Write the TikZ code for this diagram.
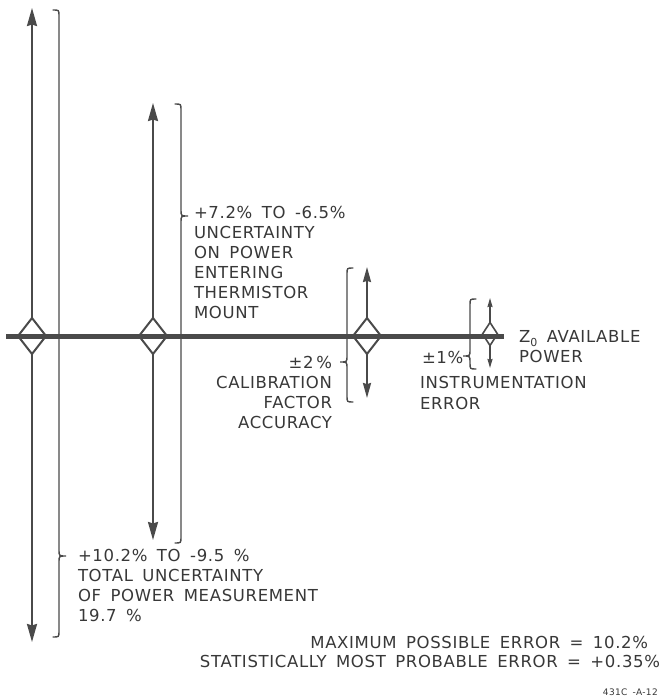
\documentclass[tikz,border=0pt]{standalone}
\usepackage{fontspec}
\setmainfont{DejaVu Sans}[LetterSpace=4, WordSpace=1.6]
\usetikzlibrary{arrows.meta,shapes.geometric}

\definecolor{ink}{HTML}{4A4A4A}
\definecolor{txt}{HTML}{383838}

% vertical curly brace: x, top, tip, bottom, side (+1 tip to the right, -1 tip to the left)
\newcommand\curlybrace[5]{%
  \draw[bracestyle] ({#1-6*(#5)},#2) .. controls (#1,#2) .. (#1,{#2+6})
    -- (#1,{#3-6}) .. controls (#1,#3) .. ({#1+7*(#5)},#3)
    .. controls (#1,#3) .. (#1,{#3+6})
    -- (#1,{#4-6}) .. controls (#1,#4) .. ({#1-6*(#5)},#4);}

\tikzset{
  bracestyle/.style={draw=ink, line width=1.4pt, line cap=round},
  shaft/.style={draw=ink, line width=2pt},
  bighead/.style={shaft, -{Stealth[length=18pt, width=10pt, inset=1.5pt]}},
  midhead/.style={shaft, -{Stealth[length=15pt, width=8pt, inset=1.2pt]}},
  smallhead/.style={shaft, line width=1.6pt, -{Stealth[length=9pt, width=5pt, inset=0.8pt]}},
  junction/.style={diamond, draw=ink, line width=2pt, inner sep=0pt, outer sep=0pt,
    minimum width=28pt, minimum height=36pt},
  smalljunction/.style={junction, line width=1.6pt, minimum width=15pt, minimum height=23pt},
  lbl/.style={inner sep=0pt, outer sep=0pt, text=txt,
    font=\fontsize{16.5}{20}\selectfont, align=left},
  refno/.style={inner sep=0pt, text=txt, font=\fontsize{9}{10}\selectfont}
}

\begin{document}
\begin{tikzpicture}[x=1pt, y=-1pt]
\useasboundingbox[fill=white] (0,0) rectangle (667,700);

% junction diamonds on the power line
\node[junction] (d1) at (32,336) {};
\node[junction] (d2) at (153,336) {};
\node[junction] (d3) at (367,336) {};
\node[smalljunction] (d4) at (490,334) {};

% arrow ends
\coordinate (t1) at (32,8);   \coordinate (b1) at (32,642);
\coordinate (t2) at (153,103); \coordinate (b2) at (153,540);
\coordinate (t3) at (367,267); \coordinate (b3) at (367,398);
\coordinate (t4) at (490,298); \coordinate (b4) at (490,368);

\draw[bighead] (d1.north) -- (t1);
\draw[bighead] (d1.south) -- (b1);
\draw[bighead] (d2.north) -- (t2);
\draw[bighead] (d2.south) -- (b2);
\draw[midhead] (d3.north) -- (t3);
\draw[midhead] (d3.south) -- (b3);
\draw[smallhead] (d4.north) -- (t4);
\draw[smallhead] (d4.south) -- (b4);

% the Z0 power line
\coordinate (lineL) at (6,336);
\coordinate (lineR) at (504,336);
\draw[ink, line width=5pt] (lineL) -- (lineR);

% braces
\curlybrace{59}{10}{556}{637}{1}
\curlybrace{181}{104}{216}{543}{1}
\curlybrace{347}{268}{362}{402}{-1}
\curlybrace{470}{299}{356}{369}{-1}

% labels (multi-line nodes are placed by the baseline of their last line)
\node[lbl, anchor=base west] (total) at (78,621)
  {+10.2\% TO -9.5 \%\\TOTAL UNCERTAINTY\\OF POWER MEASUREMENT\\19.7 \%};
\node[lbl, anchor=base west] (mount) at (194,318)
  {+7.2\% TO -6.5\%\\UNCERTAINTY\\ON POWER\\ENTERING\\THERMISTOR\\MOUNT};
\node[lbl, anchor=base east, align=right] (calib) at (332,428)
  {±2\,\%\\CALIBRATION\\FACTOR\\ACCURACY};
\node[lbl, anchor=base west] (pm1) at (422,363) {±1\%};
\node[lbl, anchor=base west, font=\fontsize{16.5}{21}\selectfont] (instr) at (420,409)
  {INSTRUMENTATION\\ERROR};
\node[lbl, anchor=base west] (avail) at (519,362)
  {Z\raisebox{-4pt}{\fontsize{11}{11}\selectfont 0} AVAILABLE\\POWER};

\node[lbl, anchor=base east] (maxerr) at (648,648) {MAXIMUM POSSIBLE ERROR = 10.2\%};
\node[lbl, anchor=base east] (proberr) at (660,667) {STATISTICALLY MOST PROBABLE ERROR = +0.35\%};
\node[refno, anchor=base east] (ref) at (658,695) {431C -A-12};
\end{tikzpicture}
\end{document}
